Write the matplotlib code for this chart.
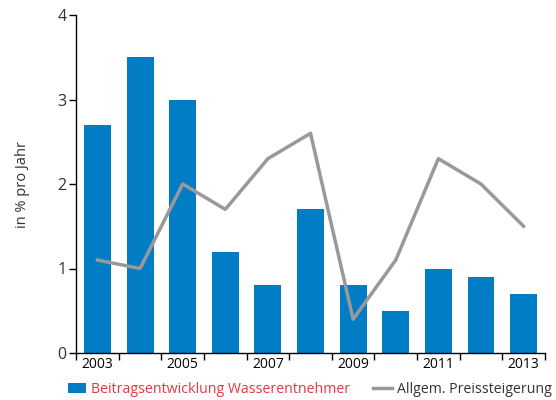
import numpy as np
import matplotlib
matplotlib.use('Agg')
import matplotlib.pyplot as plt
from matplotlib.patches import Patch
from matplotlib.lines import Line2D

plt.rcParams['font.family'] = ['Open Sans', 'DejaVu Sans']

years = ['2003', '2004', '2005', '2006', '2007', '2008', '2009', '2010', '2011', '2012', '2013']
beitrag = [2.7, 3.5, 3.0, 1.2, 0.8, 1.7, 0.8, 0.5, 1.0, 0.9, 0.7]
preis = [1.1, 1.0, 2.0, 1.7, 2.3, 2.6, 0.4, 1.1, 2.3, 2.0, 1.5]

blue = '#007DC5'
grey = '#999999'
text_col = '#333333'

fig = plt.figure(figsize=(5.56, 4.0), dpi=100)
ax = fig.add_axes([0.137, 0.1175, 0.843, 0.845])

x = np.arange(len(years))
ax.bar(x, beitrag, width=0.63, color=blue, zorder=2)
ax.plot(x, preis, color=grey, lw=2.5, zorder=3)

ax.set_xlim(-0.5, len(years) - 0.5)
ax.set_ylim(0, 4)
ax.set_yticks([0, 1, 2, 3, 4])

# ticks at category boundaries, labels every second year
ax.set_xticks(np.arange(-0.5, len(years), 1.0))
ax.set_xticklabels([])
ax.set_xticks(x[::2], minor=True)
ax.set_xticklabels(years[::2], minor=True)
ax.tick_params(axis='x', which='major', length=5, width=1, direction='out')
ax.tick_params(axis='x', which='minor', length=0, pad=3)
ax.tick_params(axis='y', length=5, width=1, pad=2)
ax.tick_params(labelsize=11.5, labelcolor=text_col)

for s in ['top', 'right']:
    ax.spines[s].set_visible(False)
for s in ['left', 'bottom']:
    ax.spines[s].set_linewidth(1)

ax.set_ylabel('in % pro Jahr', fontsize=10.5, color=text_col, labelpad=20)

handles = [Patch(facecolor=blue, edgecolor='none'),
           Line2D([0], [0], color=grey, lw=2.5)]
labels = ['Beitragsentwicklung Wasserentnehmer', 'Allgem. Preissteigerung']
leg = fig.legend(handles, labels, loc='center', bbox_to_anchor=(0.557, 0.027),
                 ncol=2, frameon=False, fontsize=10.2, handlelength=1.3,
                 handletextpad=0.36, columnspacing=1.6, borderpad=0, borderaxespad=0)
leg.get_texts()[0].set_color('#E8373F')
leg.get_texts()[1].set_color(text_col)

fig.savefig('out.png', dpi=100)
